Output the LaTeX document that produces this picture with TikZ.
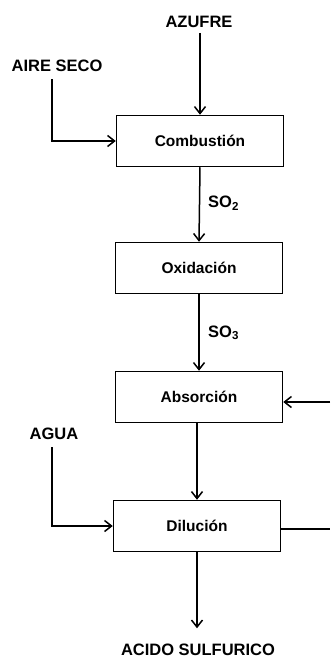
\documentclass[tikz,border=0pt]{standalone}
\usepackage{fontspec}
\setmainfont{Liberation Sans}
\usetikzlibrary{arrows.meta}
\begin{document}
\begin{tikzpicture}[x=1pt,y=-1pt,
  stage/.style={draw, line width=1.5pt, minimum width=167pt, minimum height=51pt, inner sep=0pt, font=\bfseries\fontsize{15.5}{18}\selectfont},
  label/.style={font=\bfseries\fontsize{16.5}{19}\selectfont, inner sep=0pt},
  flow/.style={line width=1.5pt, -{Straight Barb[length=7pt,width=11pt,line width=1.5pt]}},
  pipe/.style={line width=1.5pt}]
\useasboundingbox (0,0) rectangle (330,658);
% process stages
\node[stage] (comb) at (200,141) {Combusti\'on};
\node[stage] (oxid) at (199,268) {Oxidaci\'on};
\node[stage] (abso) at (199,397) {Absorci\'on};
\node[stage] (dilu) at (197,526) {Diluci\'on};
% feed and product labels
\node[label] (azufre) at (199,22) {AZUFRE};
\node[label] (aire) at (57,66) {AIRE SECO};
\node[label] (agua) at (54,434) {AGUA};
\node[label] (acido) at (198,650) {ACIDO SULFURICO};
% stream labels
\node[label, anchor=west] (so2) at (208,203) {SO\textsubscript{2}};
\node[label, anchor=west] (so3) at (208,333) {SO\textsubscript{3}};
% free ends of the side streams
\coordinate (recin) at (330,402);
\coordinate (recout) at (330,529);
% connectors
\draw[flow] (azufre.south -| comb.north) ++(0,5) -- (comb.north);
\draw[flow] (aire.south) ++(-5,7) |- (comb.west);
\draw[flow] (comb.south) -- (oxid.north);
\draw[flow] (oxid.south) -- (abso.north);
\draw[flow] (recin) -- (recin -| abso.east);
\draw[flow] (abso.south -| dilu.north) -- (dilu.north);
\draw[flow] (agua.south) ++(-2,7) |- (dilu.west);
\draw[pipe] (recout -| dilu.east) -- (recout);
\draw[flow] (dilu.south) -- ++(0,76);
\end{tikzpicture}
\end{document}
